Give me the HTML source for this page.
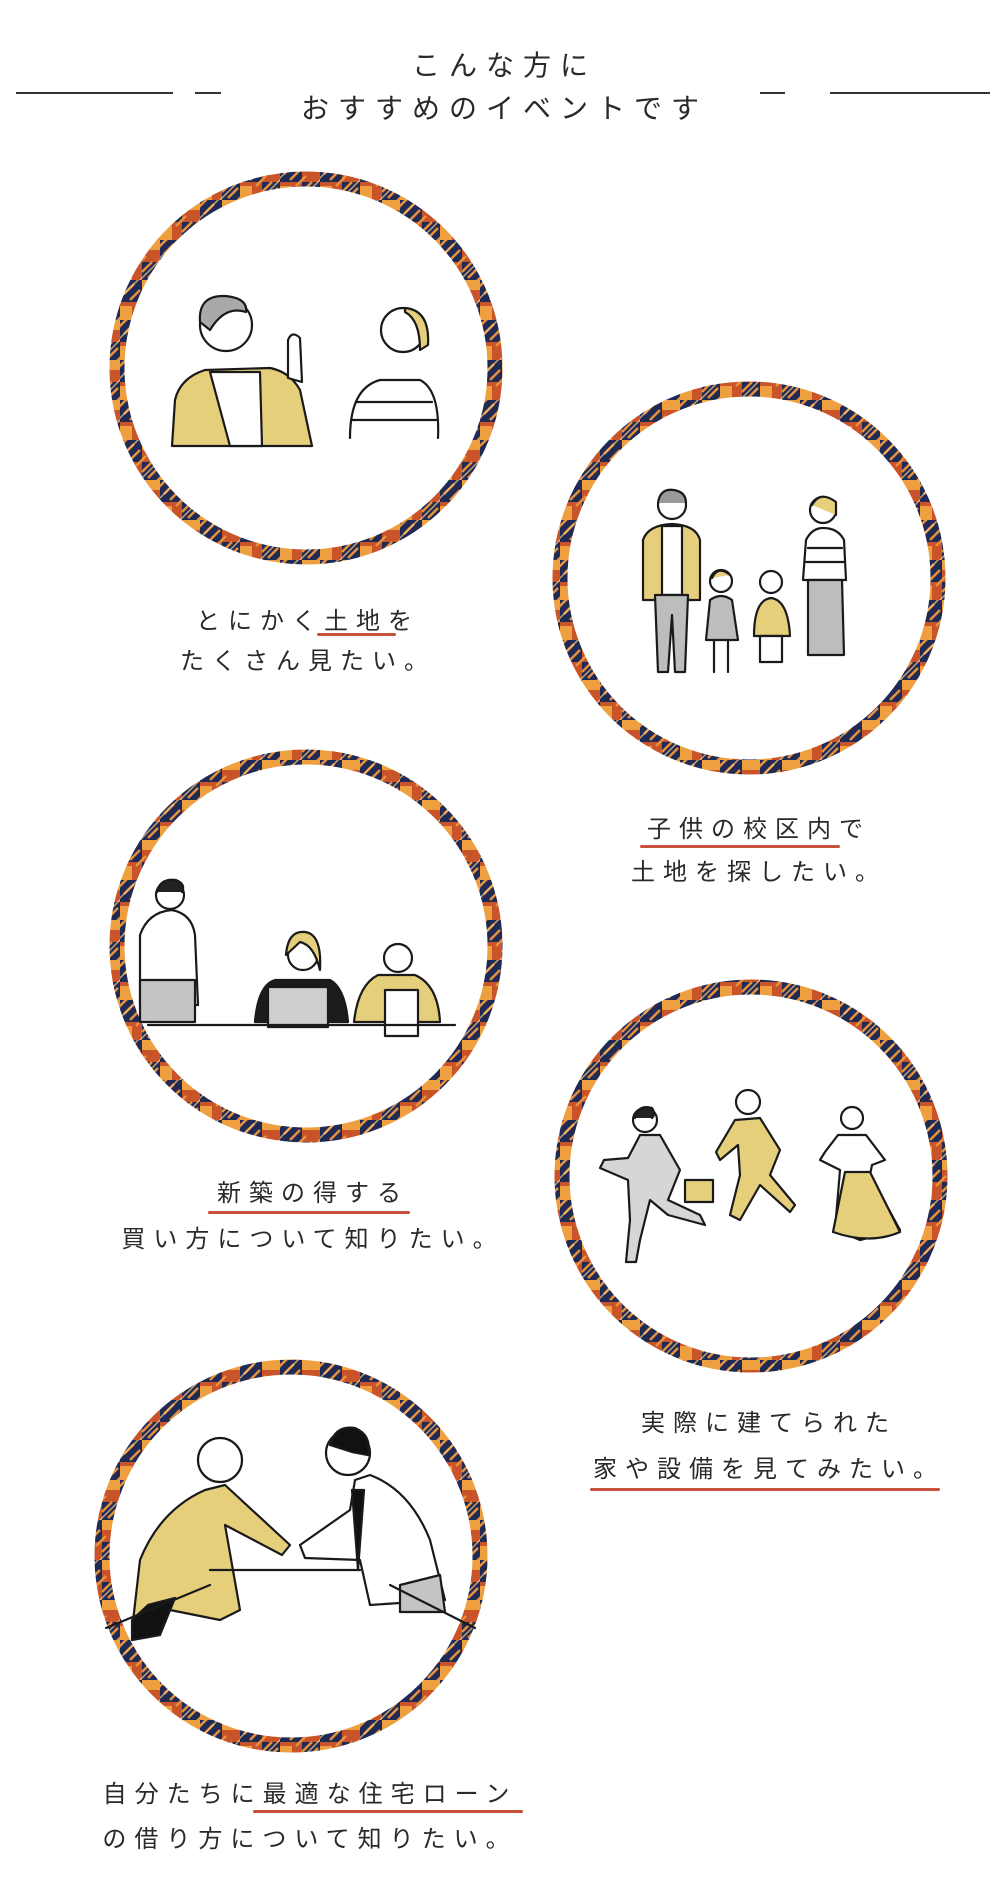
<!DOCTYPE html>
<html><head><meta charset="utf-8">
<style>
html,body{margin:0;padding:0;background:#fff;}
body{width:1000px;height:1889px;position:relative;overflow:hidden;font-family:"Liberation Sans","Noto Sans CJK JP",sans-serif;color:#2a2a2a;}
.t{position:absolute;width:600px;text-align:center;font-size:24px;letter-spacing:8px;padding-left:8px;box-sizing:border-box;line-height:30px;white-space:nowrap;}
.h{position:absolute;width:600px;left:200px;text-align:center;font-size:28px;letter-spacing:9px;padding-left:9px;box-sizing:border-box;line-height:34px;white-space:nowrap;}
.u{position:absolute;height:3px;background:#c9503c;border-radius:2px;}
svg{position:absolute;left:0;top:0;}
</style></head><body>
<svg width="1000" height="1889" viewBox="0 0 1000 1889">
<defs>
<pattern id="pl" width="40" height="40" patternUnits="userSpaceOnUse">
<rect width="40" height="40" fill="#c9542a"/>
<rect x="0" y="0" width="22" height="22" fill="#1f2a55"/>
<rect x="22" y="22" width="18" height="18" fill="#1f2a55"/>
<rect x="22" y="0" width="18" height="10" fill="#eea040"/>
<rect x="0" y="26" width="12" height="14" fill="#eea040"/>
<path d="M-2 8 L8 -2 M4 14 L14 4 M10 20 L20 10 M16 26 L26 16 M22 32 L32 22 M28 38 L38 28 M34 44 L44 34" stroke="#e8903a" stroke-width="2.5"/>
<path d="M-2 20 L20 -2 M18 42 L42 18" stroke="#f3c07a" stroke-width="1.5" opacity=".8"/>
</pattern>
</defs>
<g stroke="#333" stroke-width="2">
<line x1="16" y1="93" x2="173" y2="93"/><line x1="195" y1="93" x2="221" y2="93"/>
<line x1="760" y1="93" x2="785" y2="93"/><line x1="830" y1="93" x2="990" y2="93"/>
</g>
<g fill="none" stroke="url(#pl)" stroke-width="15">
<circle cx="306" cy="368" r="189"/>
<circle cx="749" cy="578" r="189"/>
<circle cx="306" cy="946" r="189"/>
<circle cx="751" cy="1176" r="189"/>
<circle cx="291" cy="1556" r="189"/>
</g>
<g stroke="#1a1a1a" stroke-width="2.2" stroke-linejoin="round" stroke-linecap="round">
<path d="M172 446 L175 400 Q180 378 205 370 L270 368 Q290 372 300 390 L312 446 Z" fill="#e6cf7a"/>
<path d="M210 372 L230 446 L262 446 L260 372 Z" fill="#fff"/>
<circle cx="226" cy="325" r="26" fill="#fff"/>
<path d="M200 322 Q198 295 225 296 Q248 298 246 312 Q225 305 210 330 Z" fill="#a9a9a9"/>
<path d="M288 378 L288 340 Q292 330 300 338 L302 382 Z" fill="#fff"/>
<circle cx="403" cy="330" r="22" fill="#fff"/>
<path d="M405 308 Q430 310 428 345 L420 350 Q420 320 405 312 Z" fill="#e6cf7a"/>
<path d="M350 438 Q350 388 380 380 L420 380 Q440 390 438 438" fill="#fff"/>
<path d="M356 402 L432 402 M352 420 L436 420" />
<circle cx="672" cy="505" r="14" fill="#fff"/><path d="M658 503 Q660 488 674 490 Q686 492 686 503" fill="#999"/>
<path d="M643 600 L643 540 Q648 525 672 524 Q696 525 700 540 L700 600 Z" fill="#e6cf7a"/>
<path d="M662 526 L662 595 L682 595 L682 526 Z" fill="#fff"/>
<path d="M655 595 L688 595 L685 672 L675 672 L672 615 L668 672 L658 672 Z" fill="#bdbdbd"/>
<circle cx="721" cy="581" r="11" fill="#fff"/><path d="M712 578 Q718 565 730 575" fill="#e6cf7a"/>
<path d="M706 640 L710 600 Q721 592 732 600 L738 640 Z" fill="#bdbdbd"/>
<path d="M714 640 L714 672 M728 640 L728 672"/>
<circle cx="771" cy="582" r="11" fill="#fff"/>
<path d="M754 636 Q754 600 771 598 Q788 600 790 636 Z" fill="#e6cf7a"/>
<path d="M760 636 L782 636 L782 662 L760 662 Z" fill="#fff"/>
<circle cx="823" cy="510" r="13" fill="#fff"/><path d="M812 505 Q820 490 836 502 L836 515" fill="#e6cf7a"/>
<path d="M803 580 L806 540 Q812 528 823 528 Q838 528 844 540 L846 580 Z" fill="#fff"/>
<path d="M808 548 L842 548 M806 562 L844 562"/>
<path d="M808 580 L842 580 L844 655 L808 655 Z" fill="#bdbdbd"/>
<circle cx="170" cy="895" r="14" fill="#fff"/><path d="M157 892 Q160 878 176 880 Q186 884 182 892" fill="#222"/>
<path d="M140 1005 L140 935 Q148 912 172 910 Q192 914 195 935 L198 1005 Z" fill="#fff"/>
<path d="M140 980 L195 980 L195 1022 L140 1022 Z" fill="#c4c4c4"/>
<circle cx="303" cy="955" r="15" fill="#fff"/><path d="M286 955 Q288 930 305 932 Q322 934 320 970 Q314 945 300 942 Z" fill="#e6cf7a"/>
<path d="M255 1022 Q258 985 275 980 L330 980 Q345 988 348 1022 Z" fill="#1c1c1c"/>
<rect x="268" y="987" width="60" height="40" fill="#cfcfcf"/>
<circle cx="398" cy="958" r="14" fill="#fff"/>
<path d="M354 1022 Q358 985 378 975 L415 975 Q438 985 440 1022 Z" fill="#e6cf7a"/>
<rect x="385" y="990" width="33" height="46" fill="#fff"/>
<line x1="148" y1="1025" x2="455" y2="1025"/>
<circle cx="645" cy="1120" r="12" fill="#fff"/><path d="M635 1118 Q638 1104 652 1108 Q656 1114 652 1118" fill="#222"/>
<path d="M640 1135 L660 1135 L680 1170 L668 1200 L700 1215 L705 1225 L668 1215 L650 1200 L640 1240 L636 1262 L626 1262 L630 1220 L628 1180 L600 1168 L604 1160 L628 1158 Z" fill="#d6d6d6"/>
<rect x="685" y="1180" width="28" height="22" fill="#e6cf7a"/>
<circle cx="748" cy="1102" r="12" fill="#fff"/>
<path d="M735 1120 L760 1118 L780 1150 L770 1175 L795 1205 L790 1212 L760 1185 L740 1220 L730 1215 L740 1175 L738 1145 L720 1160 L716 1152 Z" fill="#e6cf7a"/>
<circle cx="852" cy="1118" r="11" fill="#fff"/>
<path d="M838 1135 L866 1135 L885 1160 L872 1165 L870 1175 L900 1230 L860 1240 L835 1230 L840 1170 L820 1160 L825 1152 Z" fill="#fff"/>
<path d="M845 1172 L870 1172 L900 1232 Q870 1245 833 1232 Z" fill="#e6cf7a"/>
<circle cx="220" cy="1460" r="22" fill="#fff"/>
<path d="M132 1630 L140 1560 Q160 1510 205 1490 L225 1485 L290 1545 L282 1555 L225 1525 L240 1610 L220 1620 L170 1610 L148 1635 Z" fill="#e6cf7a"/>
<path d="M132 1620 L148 1605 L175 1598 L160 1635 L132 1640 Z" fill="#111"/>
<circle cx="348" cy="1453" r="22" fill="#fff"/><path d="M330 1445 Q335 1425 355 1428 Q372 1435 368 1455 L352 1452 Z" fill="#111"/>
<path d="M300 1545 L350 1510 L355 1480 L370 1475 Q410 1490 430 1540 L440 1580 L445 1600 L370 1605 L360 1560 L305 1558 Z" fill="#fff"/>
<path d="M400 1585 L440 1575 L445 1612 L400 1612 Z" fill="#c4c4c4"/>
<path d="M352 1490 L358 1570 L364 1490 Z" fill="#111"/>
<line x1="210" y1="1570" x2="360" y2="1570"/>
<line x1="106" y1="1628" x2="210" y2="1585"/><line x1="390" y1="1585" x2="475" y2="1628"/>
</g>
</svg>
<div class="h" style="top:49px">こんな方に</div>
<div class="h" style="top:92px">おすすめのイベントです</div>

<div class="t" style="left:4px;top:607px">とにかく土地を</div>
<div class="u" style="left:317px;top:633px;width:79px"></div>
<div class="t" style="left:4px;top:647px">たくさん見たい。</div>

<div class="t" style="left:455px;top:815px">子供の校区内で</div>
<div class="u" style="left:640px;top:845px;width:200px"></div>
<div class="t" style="left:455px;top:858px">土地を探したい。</div>

<div class="t" style="left:9px;top:1179px">新築の得する</div>
<div class="u" style="left:208px;top:1211px;width:202px"></div>
<div class="t" style="left:9px;top:1225px">買い方について知りたい。</div>

<div class="t" style="left:465px;top:1409px">実際に建てられた</div>
<div class="t" style="left:465px;top:1455px">家や設備を見てみたい。</div>
<div class="u" style="left:590px;top:1488px;width:350px"></div>

<div class="t" style="left:6px;top:1780px">自分たちに最適な住宅ローン</div>
<div class="u" style="left:253px;top:1810px;width:270px"></div>
<div class="t" style="left:6px;top:1825px">の借り方について知りたい。</div>
</body></html>
